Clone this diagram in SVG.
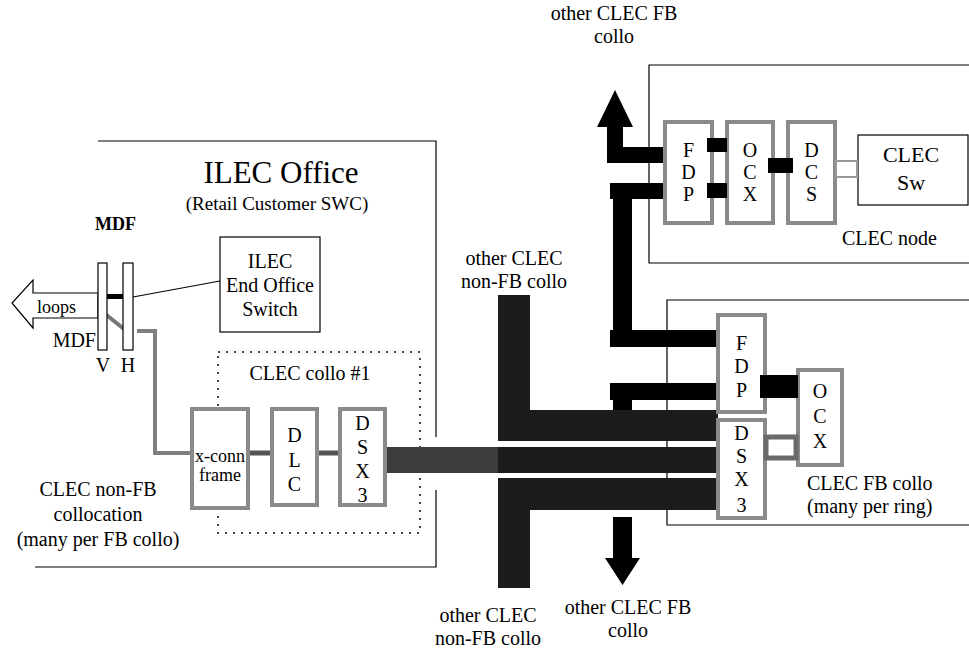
<svg xmlns="http://www.w3.org/2000/svg" width="969" height="652" viewBox="0 0 969 652" font-family="'Liberation Serif', 'Times New Roman', 'DejaVu Serif', serif">
<style>
text{font-family:"Liberation Serif","Times New Roman","DejaVu Serif",serif;fill:#000;font-size:20px}
.m{text-anchor:middle}
.box{fill:#fff;stroke:#000;stroke-width:1.2}
.gbox{fill:#fff;stroke:#8a8a8a;stroke-width:4}
.frame{fill:none;stroke:#000;stroke-width:1.2}
.blk{fill:#000}
.dk{fill:#1c1c1c}
.gl{fill:#3c3c3c}
.gw{fill:none;stroke:#808080;stroke-width:4}
</style>
<rect width="969" height="652" fill="#fff"/>

<g id="frames">
  <path class="frame" d="M98 141 H436 V437 M436 490 V567 H35"/>
  <path class="frame" d="M969 65 H649 V263 H969"/>
  <path class="frame" d="M969 300 H667 V525 H969"/>
</g>

<g id="labels">
  <text class="m" x="281" y="183" style="font-size:31px">ILEC Office</text>
  <text class="m" x="277" y="210" style="font-size:19px">(Retail Customer SWC)</text>
  <text x="95" y="230" style="font-size:18px;font-weight:bold">MDF</text>
  <text x="96" y="347" style="text-anchor:end">MDF</text>
  <text class="m" x="103" y="372">V</text>
  <text class="m" x="128" y="372">H</text>
  <text class="m" x="98" y="496">CLEC non-FB</text>
  <text class="m" x="98" y="521">collocation</text>
  <text class="m" x="98" y="546">(many per FB collo)</text>
  <text class="m" x="614" y="20">other CLEC FB</text>
  <text class="m" x="614" y="43">collo</text>
  <text class="m" x="514" y="265">other CLEC</text>
  <text class="m" x="514" y="288">non-FB collo</text>
  <text class="m" x="488" y="622">other CLEC</text>
  <text class="m" x="488" y="645">non-FB collo</text>
  <text class="m" x="628" y="614">other CLEC FB</text>
  <text class="m" x="628" y="637">collo</text>
  <text x="842" y="245">CLEC node</text>
  <text x="807" y="490">CLEC FB collo</text>
  <text x="807" y="513">(many per ring)</text>
</g>

<g id="connectors">
  <polygon points="98,293 33,293 33,280 12,303 33,328 33,318 98,318" fill="#fff" stroke="#000" stroke-width="1.2"/>
  <text x="37" y="313" style="font-size:18px">loops</text>
  <line x1="133" y1="297" x2="220" y2="281" stroke="#000" stroke-width="1.2"/>
  <line x1="104" y1="313" x2="129" y2="333" stroke="#777" stroke-width="4"/>
  <polyline class="gw" points="137,331 155,331 155,453 192,453"/>
  <line x1="248" y1="453" x2="272" y2="453" stroke="#555" stroke-width="5"/>
  <line x1="317" y1="453" x2="340" y2="453" stroke="#555" stroke-width="5"/>
  <rect class="gl" x="385" y="447" width="113" height="26"/>
  <rect class="dk" x="498" y="447" width="220" height="26"/>
  <path class="dk" d="M498 295 H530 V410 H718 V441 H498 Z"/>
  <path class="dk" d="M498 478 H718 V510 H530 V588 H498 Z"/>
  <polygon class="blk" points="613,517 632,517 632,558 640,558 622.5,585 605,558 613,558"/>
  <path class="blk" d="M610 330 H718 V347 H610 Z"/>
  <path class="blk" d="M613 183 H632 V347 H613 Z"/>
  <path class="blk" d="M610 183 H665 V199 H610 Z"/>
  <path class="blk" d="M610 383 H718 V400 H632 V410 H613 V400 H610 Z"/>
  <path class="blk" d="M607 127 H623 V147 H665 V163 H607 Z"/>
  <polygon class="blk" points="597,127 633,127 615,90"/>
</g>

<g id="mdf-v"><rect class="box" x="98" y="263" width="9" height="87"/></g>
<g id="mdf-h"><rect class="box" x="123" y="263" width="10" height="87"/></g>
<g id="mdf-jumper"><rect class="blk" x="107" y="294" width="16" height="5"/></g>

<g id="ilec-switch">
  <rect class="box" x="220" y="237" width="100" height="95"/>
  <text class="m" x="270" y="268">ILEC</text>
  <text class="m" x="270" y="292">End Office</text>
  <text class="m" x="270" y="316">Switch</text>
</g>

<g id="clec-collo-1">
  <rect x="218" y="352" width="202" height="181" fill="none" stroke="#444" stroke-width="2" stroke-dasharray="2 6"/>
  <text class="m" x="310" y="380">CLEC collo #1</text>
</g>

<g id="xconn">
  <rect class="gbox" x="192" y="409" width="56" height="99"/>
  <text class="m" x="220" y="462" style="font-size:18px">x-conn</text>
  <text class="m" x="220" y="481" style="font-size:18px">frame</text>
</g>
<g id="dlc">
  <rect class="gbox" x="272" y="409" width="45" height="96"/>
  <text class="m" x="294.5" y="442">D</text>
  <text class="m" x="294.5" y="467">L</text>
  <text class="m" x="294.5" y="491">C</text>
</g>
<g id="dsx3-a">
  <rect class="gbox" x="340" y="409" width="45" height="96"/>
  <text class="m" x="362.5" y="430">D</text>
  <text class="m" x="362.5" y="454">S</text>
  <text class="m" x="362.5" y="478">X</text>
  <text class="m" x="362.5" y="502">3</text>
</g>

<g id="node-fdp">
  <rect class="gbox" x="665" y="122" width="47" height="101"/>
  <text class="m" x="688.5" y="157">F</text>
  <text class="m" x="688.5" y="179">D</text>
  <text class="m" x="688.5" y="201">P</text>
</g>
<g id="node-ocx">
  <rect class="gbox" x="727" y="122" width="46" height="101"/>
  <text class="m" x="750" y="157">O</text>
  <text class="m" x="750" y="179">C</text>
  <text class="m" x="750" y="201">X</text>
</g>
<g id="node-dcs">
  <rect class="gbox" x="788" y="122" width="47" height="101"/>
  <text class="m" x="811.5" y="157">D</text>
  <text class="m" x="811.5" y="179">C</text>
  <text class="m" x="811.5" y="201">S</text>
</g>
<g id="clec-sw">
  <rect class="box" x="858" y="135" width="110" height="70"/>
  <text class="m" x="911" y="162" style="font-size:22px">CLEC</text>
  <text class="m" x="911" y="190" style="font-size:22px">Sw</text>
</g>

<g id="fb-fdp">
  <rect class="gbox" x="718" y="315" width="47" height="97"/>
  <text class="m" x="741.5" y="350">F</text>
  <text class="m" x="741.5" y="373">D</text>
  <text class="m" x="741.5" y="397">P</text>
</g>
<g id="fb-dsx3">
  <rect class="gbox" x="718" y="420" width="47" height="98"/>
  <text class="m" x="741.5" y="440">D</text>
  <text class="m" x="741.5" y="463">S</text>
  <text class="m" x="741.5" y="486">X</text>
  <text class="m" x="741.5" y="512">3</text>
</g>
<g id="fb-ocx">
  <rect class="gbox" x="798" y="370" width="44" height="95"/>
  <text class="m" x="820" y="398">O</text>
  <text class="m" x="820" y="423">C</text>
  <text class="m" x="820" y="448">X</text>
</g>

<g id="links">
  <rect class="blk" x="707" y="138" width="20" height="14"/>
  <rect class="blk" x="707" y="183" width="20" height="15"/>
  <rect class="blk" x="768" y="158" width="25" height="15"/>
  <rect x="836" y="161" width="21" height="16" fill="#fff" stroke="#999" stroke-width="2"/>
  <rect class="blk" x="760" y="375" width="38" height="23"/>
  <rect x="766" y="437" width="30" height="21" fill="#fff" stroke="#6a6a6a" stroke-width="5"/>
</g>
</svg>
